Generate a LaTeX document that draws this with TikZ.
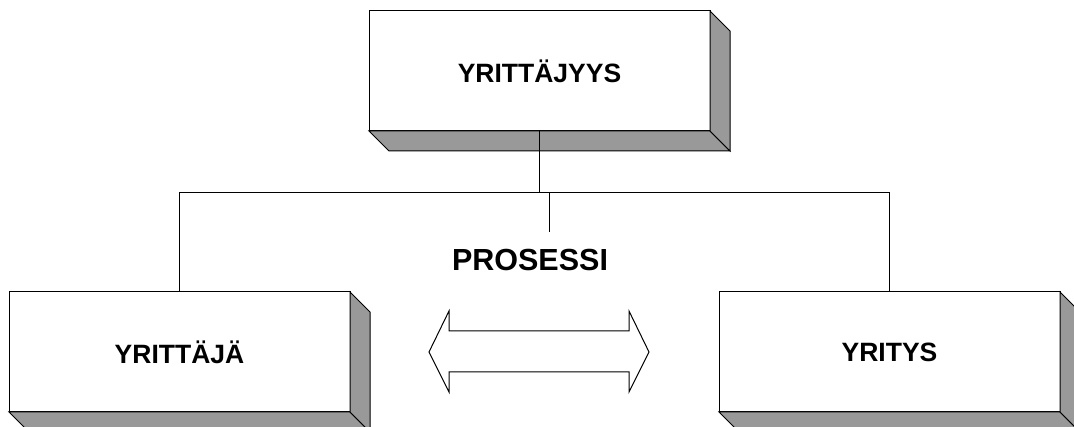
\documentclass[tikz,border=0pt]{standalone}
\usepackage{fontspec}
\setmainfont{Liberation Sans}
\usetikzlibrary{calc}
\definecolor{shade}{HTML}{999999}
\newcommand\boxsides[1]{%
  \draw[side] (#1.south west) -- ++(20,20) -- ($(#1.south east)+(20,20)$) -- (#1.south east) -- cycle;
  \draw[side] (#1.north east) -- ++(20,20) -- ($(#1.south east)+(20,20)$) -- (#1.south east) -- cycle;}
\tikzset{
  front/.style={draw=black, fill=white, line width=1pt, minimum width=341pt, minimum height=120pt,
    inner sep=0pt, outer sep=0pt, anchor=north west, font=\bfseries\fontsize{26.5}{30}\selectfont},
  side/.style={fill=shade, draw=black, line width=1pt, line join=miter},
  conn/.style={draw=black, line width=1pt},
  proclabel/.style={font=\bfseries\fontsize{30.5}{36}\selectfont, inner sep=0pt},
}
\begin{document}
\begin{tikzpicture}[x=1pt, y=-1pt]
  \useasboundingbox (0,0) rectangle (1074,427);
  \node[front] (top) at (369,11) {YRITTÄJYYS};
  \node[front] (left) at (9,292) {YRITTÄJÄ};
  \node[front] (right) at (719,292) {YRITYS};
  \boxsides{top}
  \boxsides{left}
  \boxsides{right}
  \coordinate (bar) at (0,193);
  \draw[conn] (top.south) -- (top.south |- bar);
  \draw[conn] (left.north) -- (left.north |- bar) -- (right.north |- bar) -- (right.north);
  \coordinate (tick) at (549,193);
  \coordinate (tickend) at (549,232);
  \draw[conn] (tick) -- (tickend);
  \node[proclabel] (proc) at (530,260.5) {PROSESSI};
  \coordinate (arrow) at (539,352);
  \draw[conn, fill=white, line join=miter] ($(arrow)+(-110,0)$) -- ($(arrow)+(-90,-41)$) -- ($(arrow)+(-90,-21)$)
    -- ($(arrow)+(90,-21)$) -- ($(arrow)+(90,-41)$) -- ($(arrow)+(110,0)$) -- ($(arrow)+(90,40)$)
    -- ($(arrow)+(90,20)$) -- ($(arrow)+(-90,20)$) -- ($(arrow)+(-90,40)$) -- cycle;
\end{tikzpicture}
\end{document}
